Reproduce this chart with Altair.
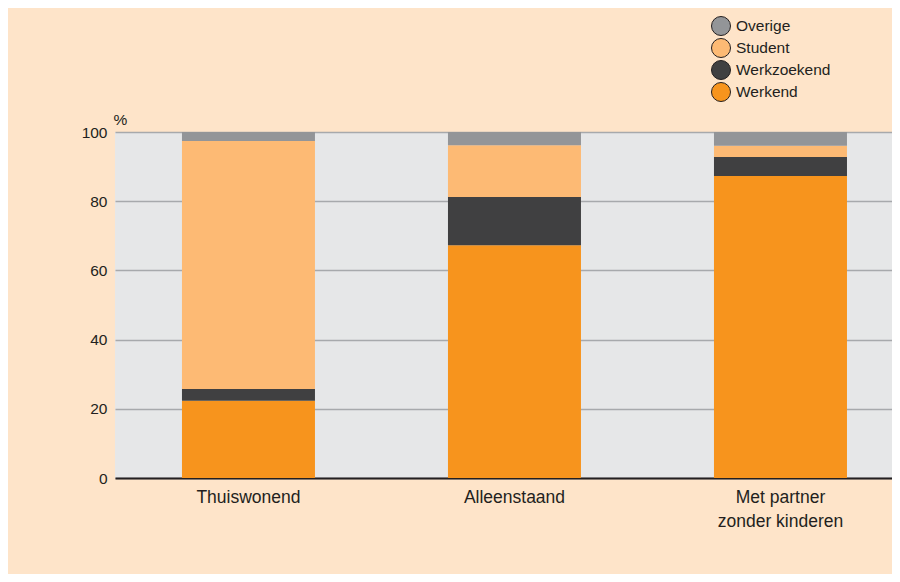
import altair as alt
import pandas as pd

categories = ["Thuiswonend", "Alleenstaand", "Met partner|zonder kinderen"]
statuses = ["Werkend", "Werkzoekend", "Student", "Overige"]
werkend = [22.3, 67.3, 87.3]
werkzoekend = [3.4, 13.9, 5.5]
student = [71.7, 15.0, 3.2]
overige = [2.6, 3.8, 4.0]
legend_order = ["Overige", "Student", "Werkzoekend", "Werkend"]
colors = ["#939598", "#FDBA74", "#404041", "#F7941D"]
y_ticks = [0, 20, 40, 60, 80, 100]

series = {"Werkend": werkend, "Werkzoekend": werkzoekend, "Student": student, "Overige": overige}
rows = []
for si, s in enumerate(statuses):
    for ci, c in enumerate(categories):
        rows.append({"categorie": c, "status": s, "waarde": series[s][ci], "volgorde": si})
df = pd.DataFrame(rows)

txt = "#231F20"

chart = alt.Chart(df).mark_bar().encode(
    x=alt.X(
        "categorie:N",
        sort=categories,
        scale=alt.Scale(paddingInner=0.5, paddingOuter=0.2105, align=0.598),
        axis=alt.Axis(
            title=None,
            labelExpr="split(datum.label, '|')",
            labelAngle=0,
            labelFontSize=17.5,
            labelLineHeight=24,
            labelPadding=10,
            labelBaseline="top",
            labelColor=txt,
            domainColor=txt,
            domainWidth=2,
            ticks=False,
            grid=False,
        ),
    ),
    y=alt.Y(
        "waarde:Q",
        stack="zero",
        scale=alt.Scale(domain=[0, 100], nice=False),
        axis=alt.Axis(
            values=y_ticks,
            title="%",
            titleAngle=0,
            titleAlign="left",
            titleBaseline="alphabetic",
            titleX=-2,
            titleY=-8,
            titleFontSize=15.5,
            titleFontWeight="normal",
            titleColor=txt,
            labelFontSize=15.5,
            labelColor=txt,
            labelPadding=8,
            domain=False,
            ticks=False,
            grid=True,
            gridColor="#A7A9AC",
            gridWidth=1.5,
        ),
    ),
    color=alt.Color(
        "status:N",
        scale=alt.Scale(domain=legend_order, range=colors),
        legend=alt.Legend(
            title=None,
            orient="none",
            legendX=596,
            legendY=-116,
            symbolType="circle",
            symbolSize=361,
            symbolStrokeColor=txt,
            symbolStrokeWidth=1,
            labelFontSize=15.5,
            labelColor=txt,
            labelOffset=5,
            rowPadding=-2,
            padding=0,
        ),
    ),
    order=alt.Order("volgorde:Q", sort="ascending"),
).properties(
    width=777,
    height=346,
    autosize=alt.AutoSizeParams(type="none"),
    padding={"left": 107, "top": 124, "right": 0, "bottom": 96},
    background="#FEE4C9",
).configure(
    font="Liberation Sans",
).configure_view(
    fill="#E6E7E8",
    strokeWidth=0,
)

chart.save("out.html", embed_options={"renderer": "svg", "actions": False})
